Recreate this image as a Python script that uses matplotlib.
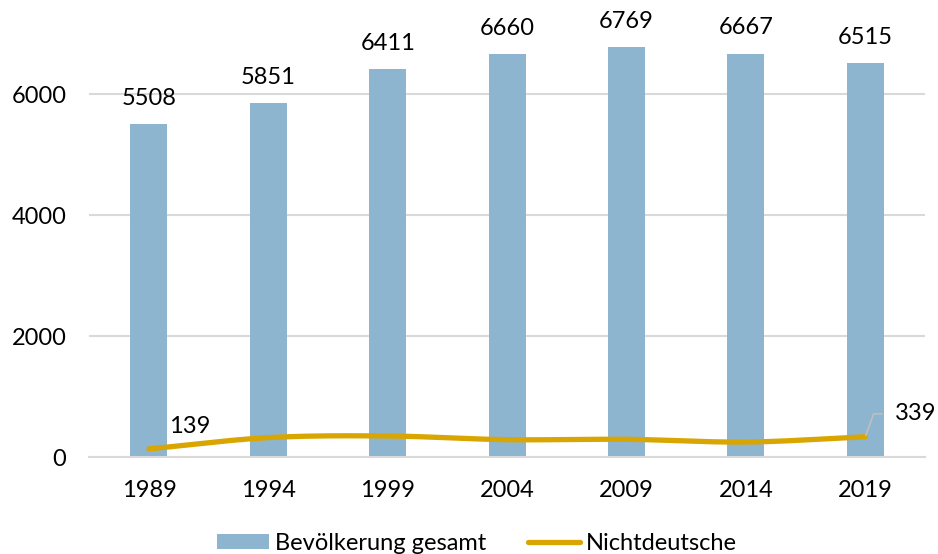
import numpy as np
import matplotlib
matplotlib.use("Agg")
import matplotlib.pyplot as plt
from matplotlib.patches import Patch
from matplotlib.lines import Line2D

plt.rcParams['font.family'] = ['Lato', 'DejaVu Sans']

years = ['1989', '1994', '1999', '2004', '2009', '2014', '2019']
total = [5508, 5851, 6411, 6660, 6769, 6667, 6515]
foreign = [139, 325, 352, 291, 297, 252, 339]

BAR_COLOR = '#8DB5CF'
LINE_COLOR = '#D9A500'
GRID_COLOR = '#D9D9D9'
FS = 17

fig = plt.figure(figsize=(9.38, 5.54), dpi=100)
ax = fig.add_axes([89.3 / 938, (554 - 457.3) / 554, (925 - 89.3) / 938, 423.8 / 554])

x = np.arange(len(years))
ax.bar(x, total, width=0.31, color=BAR_COLOR, zorder=2)

# Smoothed line (Catmull-Rom through the data points, like Excel's smoothed line)
def catmull_rom(xs, ys, n=30):
    px = np.concatenate([[2 * xs[0] - xs[1]], xs, [2 * xs[-1] - xs[-2]]])
    py = np.concatenate([[2 * ys[0] - ys[1]], ys, [2 * ys[-1] - ys[-2]]])
    outx, outy = [], []
    for i in range(1, len(px) - 2):
        t = np.linspace(0, 1, n)
        for arr, out in ((px, outx), (py, outy)):
            p0, p1, p2, p3 = arr[i - 1], arr[i], arr[i + 1], arr[i + 2]
            m1 = (p2 - p0) / 2 / 3
            m2 = (p3 - p1) / 2 / 3
            c = ((1 - t) ** 3 * p1 + 3 * (1 - t) ** 2 * t * (p1 + m1)
                 + 3 * (1 - t) * t ** 2 * (p2 - m2) + t ** 3 * p2)
            out.extend(c)
    return np.array(outx), np.array(outy)

sx, sy = catmull_rom(x.astype(float), np.array(foreign, dtype=float))
ax.plot(sx, sy, color=LINE_COLOR, lw=3.8, solid_capstyle='round', zorder=3)

ax.set_xlim(-0.5, len(years) - 0.5)
ax.set_ylim(0, 7000)
ax.set_yticks([0, 2000, 4000, 6000])
ax.set_xticks(x)
ax.set_xticklabels(years)
ax.tick_params(axis='both', length=0, labelsize=FS, colors='black')
ax.tick_params(axis='x', pad=16)
ax.tick_params(axis='y', pad=16.5)

ax.grid(axis='y', color=GRID_COLOR, lw=1.5, zorder=0)
ax.set_axisbelow(True)
for s in ['top', 'right', 'left']:
    ax.spines[s].set_visible(False)
ax.spines['bottom'].set_color(GRID_COLOR)
ax.spines['bottom'].set_linewidth(1.5)

for xi, v in zip(x, total):
    ax.annotate(str(v), (xi, v), xytext=(0, 18.5), textcoords='offset points',
                ha='center', va='center', fontsize=FS)

ax.annotate(str(foreign[0]), (x[0], foreign[0]), xytext=(29, 16), textcoords='offset points',
            ha='center', va='center', fontsize=FS)
ax.annotate(str(foreign[-1]), (x[-1], foreign[-1]), xytext=(36, 16.5), textcoords='offset points',
            ha='center', va='center', fontsize=FS,
            arrowprops=dict(arrowstyle='-', color='#BFBFBF', lw=1.2,
                            shrinkA=7, shrinkB=1, relpos=(0, 0.5),
                            connectionstyle='angle,angleA=180,angleB=70,rad=0'))

handles = [Patch(facecolor=BAR_COLOR, edgecolor='none'),
           Line2D([0], [0], color=LINE_COLOR, lw=3.8, solid_capstyle='round')]
fig.legend(handles, ['Bevölkerung gesamt', 'Nichtdeutsche'], loc='center',
           bbox_to_anchor=(477 / 938, 1 - 543 / 554), ncol=2, frameon=False,
           fontsize=FS, handlelength=2.2, handletextpad=0.25, columnspacing=1.75,
           handleheight=0.6)

fig.savefig('out.png', dpi=100)
